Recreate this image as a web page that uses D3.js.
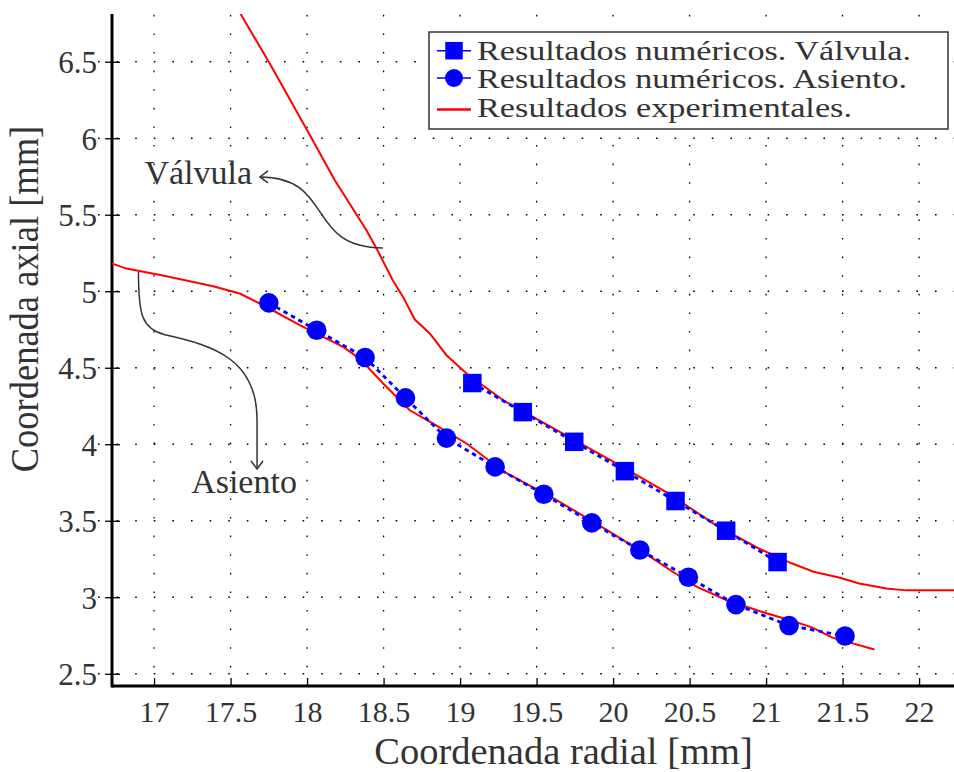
<!DOCTYPE html>
<html>
<head>
<meta charset="utf-8">
<script src="https://cdn.jsdelivr.net/npm/d3@7"></script>
<style>
  html, body { margin: 0; padding: 0; background: #ffffff; }
  svg { display: block; }
  text { font-family: "Liberation Serif", "DejaVu Serif", serif; fill: #333333; }
</style>
</head>
<body>
<svg id="chart" width="954" height="772"></svg>
<script>
// ---------------- data ----------------
const xTicks = [17, 17.5, 18, 18.5, 19, 19.5, 20, 20.5, 21, 21.5, 22];
const xTickLabels = ["17", "17.5", "18", "18.5", "19", "19.5", "20", "20.5", "21", "21.5", "22"];
const yTicks = [2.5, 3, 3.5, 4, 4.5, 5, 5.5, 6, 6.5];
const yTickLabels = ["2.5", "3", "3.5", "4", "4.5", "5", "5.5", "6", "6.5"];

// Numerical results – valve (squares)
const valvulaX = [19.08, 19.41, 19.746, 20.077, 20.408, 20.739, 21.075];
const valvulaY = [4.40, 4.21, 4.016, 3.824, 3.629, 3.435, 3.23];

// Numerical results – seat (circles)
const asientoX = [17.75, 18.063, 18.379, 18.643, 18.911, 19.229, 19.547, 19.861, 20.175, 20.492, 20.803, 21.150, 21.516];
const asientoY = [4.924, 4.745, 4.567, 4.303, 4.04, 3.852, 3.673, 3.486, 3.309, 3.131, 2.952, 2.815, 2.747];

// Experimental – valve profile
const expValvX = [17.51, 17.567, 17.756, 18.007, 18.181, 18.388, 18.454, 18.560, 18.627, 18.704, 18.802, 18.911, 19.046, 19.289, 19.687, 20.018, 20.350, 20.681, 20.946, 21.167, 21.310, 21.476, 21.609, 21.786, 21.918, 22.4];
const expValvY = [6.90, 6.81, 6.488, 6.041, 5.725, 5.399, 5.279, 5.072, 4.963, 4.815, 4.724, 4.582, 4.459, 4.283, 4.062, 3.876, 3.686, 3.465, 3.322, 3.222, 3.167, 3.129, 3.090, 3.057, 3.045, 3.045];

// Experimental – seat profile
const expAsiX = [16.70, 16.82, 17.081, 17.386, 17.560, 17.735, 17.952, 18.235, 18.344, 18.497, 18.671, 18.824, 19.042, 19.289, 19.620, 19.952, 20.239, 20.372, 20.548, 20.747, 20.946, 21.167, 21.300, 21.433, 21.708];
const expAsiY = [5.19, 5.148, 5.098, 5.033, 4.985, 4.897, 4.778, 4.636, 4.560, 4.397, 4.222, 4.135, 4.005, 3.819, 3.642, 3.443, 3.267, 3.178, 3.068, 2.979, 2.913, 2.846, 2.803, 2.736, 2.659];

const legendLabels = ["Resultados numéricos. Válvula.", "Resultados numéricos. Asiento.", "Resultados experimentales."];
const legendWidths = [434, 430, 375];
const xLabel = "Coordenada radial [mm]";
const yLabel = "Coordenada axial [mm]";

// annotations (data units)
const valvAnnotText = "Válvula";
const valvAnnotTextPos = [17.289, 5.70];
const valvAnnotCurve = [[18.496, 5.283], [17.986, 5.283], [18.182, 5.747], [17.692, 5.747]];
const asiAnnotText = "Asiento";
const asiAnnotTextPos = [17.588, 3.68];
const asiAnnotCurve1 = [[16.898, 5.126], [16.898, 4.8395], [16.921, 4.7547], [17.071, 4.7153]];
const asiAnnotCurve2 = [[17.071, 4.7153], [17.398, 4.6435], [17.673, 4.5507], [17.673, 4.1585]];
const asiAnnotTip = [17.673, 3.8383];

// ---------------- layout ----------------
const svg = d3.select("#chart");
const pLeft = 112, pRight = 965, pTop = 14, pBottom = 686;
const x = d3.scaleLinear().domain([16.725, 22.3]).range([pLeft, pRight]);
const y = d3.scaleLinear().domain([2.42, 6.812]).range([pBottom, pTop]);

const BLUE = "#0000ff", RED = "#ff0000", INK = "#333333";

svg.append("defs").append("clipPath").attr("id", "plotclip")
  .append("rect").attr("x", pLeft).attr("y", pTop).attr("width", 954 - pLeft).attr("height", pBottom - pTop);

// ---------------- grid ----------------
const grid = svg.append("g");
grid.selectAll("line.vg").data(xTicks).join("line")
  .attr("x1", d => x(d)).attr("x2", d => x(d))
  .attr("y1", pBottom).attr("y2", pTop)
  .attr("stroke", "#000").attr("stroke-width", 1.3)
  .attr("stroke-dasharray", "1.6,17");
grid.selectAll("line.hg").data(yTicks).join("line")
  .attr("x1", pLeft - 14).attr("x2", 954)
  .attr("y1", d => y(d)).attr("y2", d => y(d))
  .attr("stroke", "#000").attr("stroke-width", 1.3)
  .attr("stroke-dasharray", "1.6,17");

// ---------------- axes ----------------
const xAxis = d3.axisBottom(x).tickValues(xTicks).tickSizeInner(-8).tickSizeOuter(0)
  .tickFormat((d, i) => xTickLabels[i]);
const gx = svg.append("g").attr("transform", `translate(0,${pBottom})`).call(xAxis);
gx.attr("font-family", null);
gx.select(".domain").remove();
gx.selectAll(".tick line").attr("stroke", "#000").attr("stroke-width", 1.3);
gx.selectAll(".tick text").attr("y", 36).attr("dy", null)
  .style("font-family", "Liberation Serif").style("font-size", "30px").attr("fill", INK);

const yAxis = d3.axisLeft(y).tickValues(yTicks).tickSizeInner(-8).tickSizeOuter(0)
  .tickFormat((d, i) => yTickLabels[i]);
const gy = svg.append("g").attr("transform", `translate(${pLeft},0)`).call(yAxis);
gy.attr("font-family", null);
gy.select(".domain").remove();
gy.selectAll(".tick line").attr("x1", -7).attr("x2", 8).attr("stroke", "#000").attr("stroke-width", 1.3);
gy.selectAll(".tick text").attr("x", -15).attr("dy", "0.35em")
  .style("font-family", "Liberation Serif").style("font-size", "31px").attr("fill", INK);

svg.append("line").attr("x1", pLeft).attr("x2", 954).attr("y1", pBottom).attr("y2", pBottom)
  .attr("stroke", "#000").attr("stroke-width", 3);
svg.append("line").attr("x1", pLeft).attr("x2", pLeft).attr("y1", pTop).attr("y2", pBottom + 1.5)
  .attr("stroke", "#000").attr("stroke-width", 3);

// ---------------- data lines ----------------
const plot = svg.append("g").attr("clip-path", "url(#plotclip)");
const line = d3.line().x(d => x(d[0])).y(d => y(d[1]));

const expValv = expValvX.map((v, i) => [v, expValvY[i]]);
const expAsi = expAsiX.map((v, i) => [v, expAsiY[i]]);
const valv = valvulaX.map((v, i) => [v, valvulaY[i]]);
const asi = asientoX.map((v, i) => [v, asientoY[i]]);

plot.append("path").datum(expValv).attr("d", line)
  .attr("fill", "none").attr("stroke", RED).attr("stroke-width", 2);
plot.append("path").datum(expAsi).attr("d", line)
  .attr("fill", "none").attr("stroke", RED).attr("stroke-width", 2);

plot.append("path").datum(valv).attr("d", line)
  .attr("fill", "none").attr("stroke", BLUE).attr("stroke-width", 2.8).attr("stroke-dasharray", "4.5,4");
plot.append("path").datum(asi).attr("d", line)
  .attr("fill", "none").attr("stroke", BLUE).attr("stroke-width", 2.8).attr("stroke-dasharray", "4.5,4");

const sq = 18.5;
plot.selectAll("rect.vm").data(valv).join("rect")
  .attr("x", d => x(d[0]) - sq / 2).attr("y", d => y(d[1]) - sq / 2)
  .attr("width", sq).attr("height", sq).attr("fill", BLUE);
plot.selectAll("circle.am").data(asi).join("circle")
  .attr("cx", d => x(d[0])).attr("cy", d => y(d[1])).attr("r", 9.8).attr("fill", BLUE);

// ---------------- annotations ----------------
function cubicPath(pts) {
  const p = pts.map(d => [x(d[0]), y(d[1])]);
  return `M${p[0][0]},${p[0][1]} C${p[1][0]},${p[1][1]} ${p[2][0]},${p[2][1]} ${p[3][0]},${p[3][1]}`;
}
const ann = svg.append("g").attr("fill", "none").attr("stroke", INK).attr("stroke-width", 1.5);
ann.append("path").attr("d", cubicPath(valvAnnotCurve));
{
  const tx = x(valvAnnotCurve[3][0]), ty = y(valvAnnotCurve[3][1]);
  ann.append("path").attr("d", `M${tx + 8},${ty - 6} L${tx},${ty} L${tx + 8},${ty + 6}`);
}
ann.append("path").attr("d", cubicPath(asiAnnotCurve1) + " " + cubicPath(asiAnnotCurve2).replace("M", "L")
  + ` L${x(asiAnnotTip[0])},${y(asiAnnotTip[1])}`);
{
  const tx = x(asiAnnotTip[0]), ty = y(asiAnnotTip[1]);
  ann.append("path").attr("d", `M${tx - 6},${ty - 8} L${tx},${ty} L${tx + 6},${ty - 8}`);
}
svg.append("text").attr("x", x(valvAnnotTextPos[0])).attr("y", y(valvAnnotTextPos[1]))
  .attr("text-anchor", "middle").style("font-size", "34px").text(valvAnnotText);
svg.append("text").attr("x", x(asiAnnotTextPos[0])).attr("y", y(asiAnnotTextPos[1]))
  .attr("text-anchor", "middle").style("font-size", "34px").text(asiAnnotText);

// ---------------- axis titles ----------------
svg.append("text")
  .attr("x", (370 + 757) / 2).attr("y", 764)
  .attr("text-anchor", "middle").style("font-size", "38.5px").text(xLabel);
svg.append("text")
  .attr("transform", `translate(38,299) rotate(-90) scale(1,1.08)`)
  .attr("text-anchor", "middle").style("font-size", "36.5px").text(yLabel);

// ---------------- legend ----------------
const lg = svg.append("g");
lg.append("rect").attr("x", 429).attr("y", 32).attr("width", 519).attr("height", 97)
  .attr("fill", "#fff").attr("stroke", "#333").attr("stroke-width", 1.5);
const rowMarkY = [50.7, 78, 109.5];
const rowBase = [60, 88, 116.5];
// row 1: square
lg.append("line").attr("x1", 437).attr("x2", 471).attr("y1", rowMarkY[0]).attr("y2", rowMarkY[0])
  .attr("stroke", BLUE).attr("stroke-width", 1.5);
lg.append("rect").attr("x", 454 - 8.75).attr("y", rowMarkY[0] - 8.75).attr("width", 17.5).attr("height", 17.5).attr("fill", BLUE);
// row 2: circle
lg.append("line").attr("x1", 437).attr("x2", 471).attr("y1", rowMarkY[1]).attr("y2", rowMarkY[1])
  .attr("stroke", BLUE).attr("stroke-width", 1.5);
lg.append("circle").attr("cx", 454).attr("cy", rowMarkY[1]).attr("r", 9).attr("fill", BLUE);
// row 3: red line
lg.append("line").attr("x1", 437).attr("x2", 471).attr("y1", rowMarkY[2]).attr("y2", rowMarkY[2])
  .attr("stroke", RED).attr("stroke-width", 2.5);
lg.selectAll("text.lt").data(legendLabels).join("text")
  .attr("x", 477).attr("y", (d, i) => rowBase[i])
  .attr("textLength", (d, i) => legendWidths[i]).attr("lengthAdjust", "spacingAndGlyphs")
  .style("font-size", "27px").text(d => d);
</script>
</body>
</html>
